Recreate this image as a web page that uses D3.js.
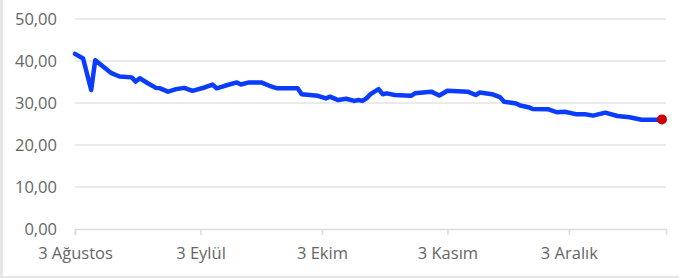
<!DOCTYPE html>
<html>
<head>
<meta charset="utf-8">
<script src="https://cdn.jsdelivr.net/npm/d3@7"></script>
<style>
  html, body { margin: 0; padding: 0; background: #fff; }
  svg { display: block; font-family: "Open Sans", sans-serif; }
</style>
</head>
<body>
<div id="chart"></div>
<script>
const dates = [
  '2020-08-03', '2020-08-05', '2020-08-07', '2020-08-08', '2020-08-09', '2020-08-12',
  '2020-08-14', '2020-08-17', '2020-08-18', '2020-08-19', '2020-08-21', '2020-08-23',
  '2020-08-24', '2020-08-26', '2020-08-28', '2020-08-30', '2020-09-01', '2020-09-04',
  '2020-09-06', '2020-09-07', '2020-09-09', '2020-09-12', '2020-09-13', '2020-09-15',
  '2020-09-18', '2020-09-20', '2020-09-22', '2020-09-27', '2020-09-28', '2020-10-02',
  '2020-10-04', '2020-10-05', '2020-10-07', '2020-10-09', '2020-10-11', '2020-10-12',
  '2020-10-13', '2020-10-14', '2020-10-15', '2020-10-17', '2020-10-18', '2020-10-19',
  '2020-10-21', '2020-10-25', '2020-10-26', '2020-10-30', '2020-11-01', '2020-11-03',
  '2020-11-08', '2020-11-10', '2020-11-11', '2020-11-14', '2020-11-16', '2020-11-17',
  '2020-11-20', '2020-11-21', '2020-11-23', '2020-11-24', '2020-11-28', '2020-11-30',
  '2020-12-02', '2020-12-05', '2020-12-07', '2020-12-09', '2020-12-12', '2020-12-15',
  '2020-12-18', '2020-12-21', '2020-12-25', '2020-12-26'
]
const values = [
  41.7, 40.6, 33.1, 40.2, 39.4, 37.1,
  36.3, 36.1, 35.1, 35.9, 34.7, 33.6,
  33.5, 32.7, 33.3, 33.6, 32.9, 33.7,
  34.4, 33.5, 34.1, 34.9, 34.4, 34.9,
  34.9, 34.1, 33.5, 33.5, 32.1, 31.7,
  31.1, 31.5, 30.7, 31.0, 30.5, 30.7,
  30.5, 31.1, 32.1, 33.3, 32.1, 32.3,
  31.9, 31.7, 32.3, 32.7, 31.8, 32.9,
  32.7, 31.9, 32.5, 32.1, 31.4, 30.3,
  29.9, 29.4, 29.0, 28.6, 28.5, 27.8,
  27.9, 27.3, 27.3, 27.0, 27.7, 26.9,
  26.6, 26.0, 26.0, 26.1
]
const yTicks = [0, 10, 20, 30, 40, 50]
const xTicks = ['2020-08-03', '2020-09-03', '2020-10-03', '2020-11-03', '2020-12-03']
const monthNames = ['Ocak', 'Şubat', 'Mart', 'Nisan', 'Mayıs', 'Haziran',
  'Temmuz', 'Ağustos', 'Eylül', 'Ekim', 'Kasım', 'Aralık']

const width = 679
const height = 278
const fontSize = 16.5
const parse = d3.utcParse('%Y-%m-%d')
const data = dates.map((d, i) => ({ date: parse(d), value: values[i] }))

const svg = d3.select('#chart').append('svg')
  .attr('width', width)
  .attr('height', height)

// frame
svg.append('rect').attr('x', 0).attr('y', 0).attr('width', 3).attr('height', height).attr('fill', '#e6e6e6')
svg.append('rect').attr('x', 0).attr('y', 276).attr('width', width).attr('height', 2).attr('fill', '#e6e6e6')

const x = d3.scaleUtc()
  .domain([parse('2020-08-03'), parse('2020-12-27')])
  .range([75, 666])

const y = d3.scaleLinear()
  .domain([0, 50])
  .range([229, 19])

// grid
svg.append('g')
  .selectAll('line')
  .data(yTicks.filter(t => t > 0))
  .join('line')
  .attr('x1', 75)
  .attr('x2', 666)
  .attr('y1', d => y(d))
  .attr('y2', d => y(d))
  .attr('stroke', '#e3e3e3')
  .attr('stroke-width', 1.6)

// y labels
svg.append('g')
  .selectAll('text')
  .data(yTicks)
  .join('text')
  .attr('x', 57)
  .attr('y', d => y(d) + 6)
  .attr('text-anchor', 'end')
  .attr('font-size', fontSize)
  .attr('fill', '#666')
  .text(d => d3.format('.2f')(d).replace('.', ','))

// x axis
const xAxis = d3.axisBottom(x)
  .tickValues(xTicks.map(parse))
  .tickSize(6)
  .tickPadding(12)
  .tickFormat(d => d.getUTCDate() + ' ' + monthNames[d.getUTCMonth()])

const xg = svg.append('g')
  .attr('transform', 'translate(0,229)')
  .call(xAxis)
xg.select('.domain').attr('stroke', '#dcdcdc').attr('stroke-width', 1.6)
xg.selectAll('.tick line').attr('stroke', '#dcdcdc').attr('stroke-width', 1.6)
xg.selectAll('.tick text')
  .attr('font-family', '"Open Sans", sans-serif')
  .attr('font-size', fontSize)
  .attr('fill', '#666')

// line
const line = d3.line()
  .x(d => x(d.date))
  .y(d => y(d.value))

svg.append('path')
  .datum(data)
  .attr('d', line)
  .attr('fill', 'none')
  .attr('stroke', '#0a3cff')
  .attr('stroke-width', 4.5)
  .attr('stroke-linejoin', 'round')
  .attr('stroke-linecap', 'round')

const last = data[data.length - 1]
svg.append('circle')
  .attr('cx', x(last.date))
  .attr('cy', y(last.value))
  .attr('r', 5)
  .attr('fill', '#cc0000')
</script>
</body>
</html>
